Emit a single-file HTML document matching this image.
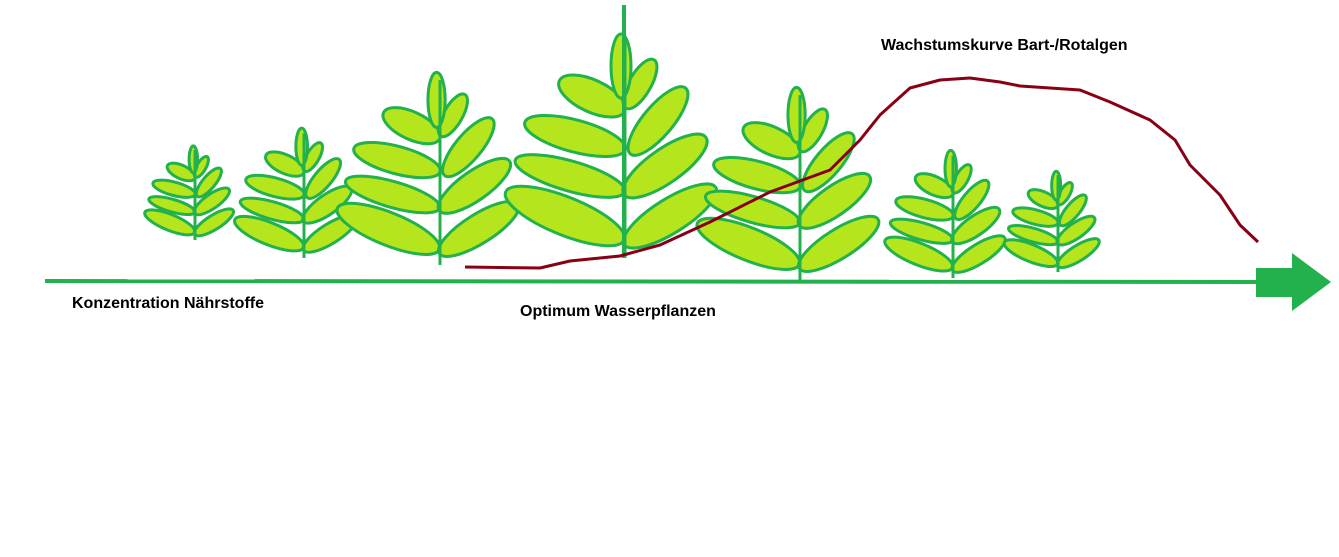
<!DOCTYPE html>
<html><head><meta charset="utf-8"><style>
html,body{margin:0;padding:0;background:#fff;}
svg{display:block;}
text{font-family:"Liberation Sans",Arial,sans-serif;font-weight:bold;font-size:16px;fill:#000;}
</style></head><body>
<svg width="1339" height="557" viewBox="0 0 1339 557" xmlns="http://www.w3.org/2000/svg">
<defs>
<g id="plant" fill="#b5e61d" stroke="#22b14c" stroke-width="3">
  <ellipse vector-effect="non-scaling-stroke" cx="-60" cy="-42" rx="64" ry="19" transform="rotate(22 -60 -42)"/>
  <ellipse vector-effect="non-scaling-stroke" cx="45" cy="-42" rx="54" ry="17" transform="rotate(-32 45 -42)"/>
  <ellipse vector-effect="non-scaling-stroke" cx="-55" cy="-82" rx="57" ry="15" transform="rotate(16 -55 -82)"/>
  <ellipse vector-effect="non-scaling-stroke" cx="40" cy="-92" rx="50" ry="17" transform="rotate(-35 40 -92)"/>
  <ellipse vector-effect="non-scaling-stroke" cx="-50" cy="-122" rx="52" ry="16" transform="rotate(15 -50 -122)"/>
  <ellipse vector-effect="non-scaling-stroke" cx="33" cy="-137" rx="43" ry="15" transform="rotate(-50 33 -137)"/>
  <ellipse vector-effect="non-scaling-stroke" cx="-33" cy="-162" rx="36" ry="16" transform="rotate(25 -33 -162)"/>
  <ellipse vector-effect="non-scaling-stroke" cx="15" cy="-174" rx="28" ry="11" transform="rotate(-60 15 -174)"/>
  <ellipse vector-effect="non-scaling-stroke" cx="-4" cy="-192" rx="10" ry="32"/>
  <line vector-effect="non-scaling-stroke" x1="0" y1="0" x2="0" y2="-215" fill="none"/>
</g>
</defs>
<use href="#plant" transform="translate(195 240) scale(0.42)"/>
<use href="#plant" transform="translate(304 258) scale(0.58)"/>
<use href="#plant" transform="translate(440 265) scale(0.86)"/>
<use href="#plant" transform="translate(625 258) scale(1)"/>
<use href="#plant" transform="translate(800 280) scale(0.86)"/>
<use href="#plant" transform="translate(953 278) scale(0.57)"/>
<use href="#plant" transform="translate(1058 272) scale(0.45)"/>
<line x1="624" y1="5" x2="624" y2="258" stroke="#22b14c" stroke-width="4"/>
<line x1="45" y1="281" x2="1262" y2="282" stroke="#22b14c" stroke-width="4"/>
<polygon points="1256,268 1292,268 1292,253 1331,282 1292,311 1292,297 1256,297" fill="#22b14c"/>
<polyline fill="none" stroke="#880015" stroke-width="3" stroke-linejoin="round" points="465,267 540,268 570,261 620,256 660,245 710,222 770,192 830,170 860,140 880,115 910,88 940,80 970,78 1000,82 1020,86 1080,90 1110,102 1150,120 1175,140 1190,165 1205,180 1220,195 1240,225 1258,242"/>
<text x="72" y="308">Konzentration Nährstoffe</text>
<text x="520" y="316">Optimum Wasserpflanzen</text>
<text x="881" y="50">Wachstumskurve Bart-/Rotalgen</text>
</svg>
</body></html>
